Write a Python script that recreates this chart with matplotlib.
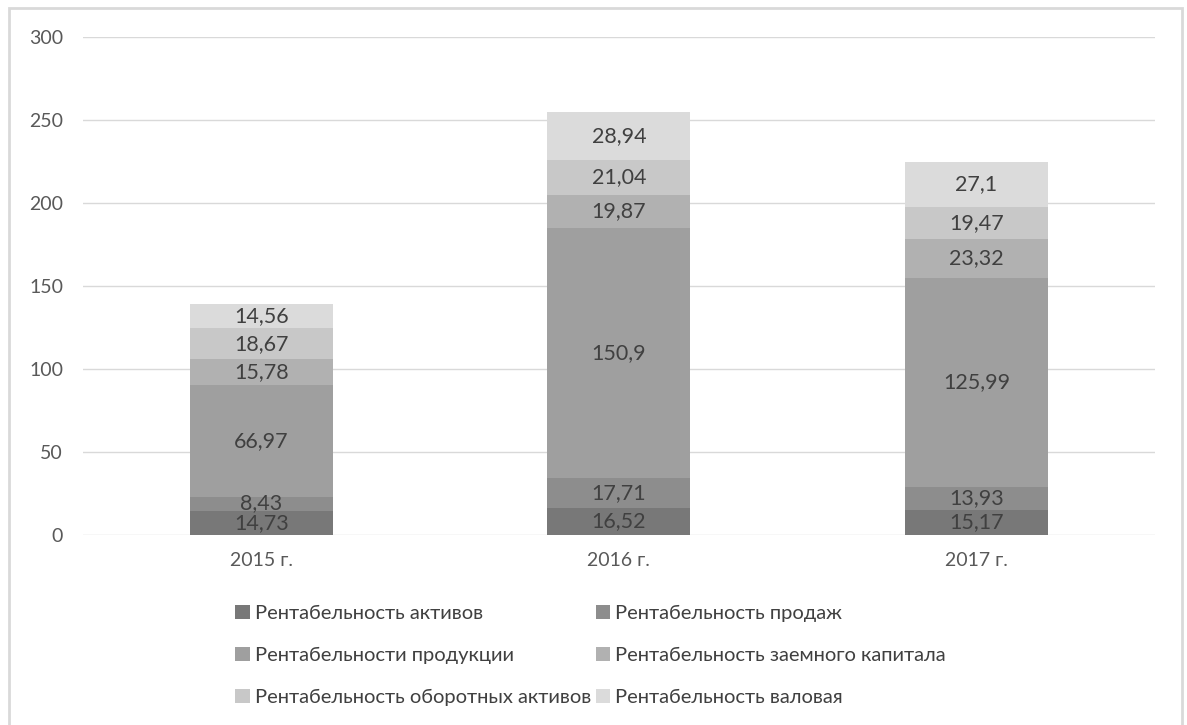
import matplotlib
matplotlib.use("Agg")
import matplotlib.pyplot as plt
from matplotlib.patches import Rectangle

# данные
years = ["2015 г.", "2016 г.", "2017 г."]
series = ["Рентабельность активов", "Рентабельность продаж",
          "Рентабельности продукции", "Рентабельность заемного капитала",
          "Рентабельность оборотных активов", "Рентабельность валовая"]
aktivov = [14.73, 16.52, 15.17]
prodazh = [8.43, 17.71, 13.93]
produkcii = [66.97, 150.9, 125.99]
zaemnogo = [15.78, 19.87, 23.32]
oborotnyh = [18.67, 21.04, 19.47]
valovaya = [14.56, 28.94, 27.1]
colors = ["#787878", "#8d8d8d", "#9f9f9f", "#b1b1b1", "#c8c8c8", "#dbdbdb"]

plt.rcParams['font.family'] = ['Lato', 'DejaVu Sans']

fig = plt.figure(figsize=(11.87, 7.25), dpi=100)
ax = fig.add_axes([82.5/1187, 1-535/725, (1155.3-82.5)/1187, (535-37)/725])

x = list(range(len(years)))
bottom = [0, 0, 0]
handles = []
for name, vals, c in zip(series, [aktivov, prodazh, produkcii, zaemnogo, oborotnyh, valovaya], colors):
    b = ax.bar(x, vals, 0.4, bottom=bottom, color=c, label=name, zorder=2)
    handles.append(b)
    labels = [str(v).replace(".", ",") for v in vals]
    ax.bar_label(b, labels=labels, label_type='center', color="#404040", fontsize=15.5)
    bottom = [bo + v for bo, v in zip(bottom, vals)]

ax.set_ylim(0, 300)
ax.set_xlim(-0.5, 2.5)
ax.set_yticks(range(0, 301, 50))
ax.set_xticks(x)
ax.set_xticklabels(years)
ax.grid(axis='y', color="#d9d9d9", lw=1, zorder=0)
for s in ax.spines.values():
    s.set_visible(False)
ax.tick_params(length=0, colors="#595959", labelsize=14)
ax.tick_params(axis='y', pad=14)
ax.tick_params(axis='x', pad=12)

order = [0, 2, 4, 1, 3, 5]
fig.legend([handles[i] for i in order], [series[i] for i in order],
           ncol=2, loc='upper left', bbox_to_anchor=(217/1187, 1-587/725),
           frameon=False, fontsize=14.5, handlelength=0.72, handleheight=0.72,
           handletextpad=0.25, columnspacing=0.25, labelspacing=1.22,
           labelcolor="#404040")

fig.patches.append(Rectangle((9/1187, -0.05), (1182-9)/1187, 1.05-8/725,
                             transform=fig.transFigure, fill=False,
                             edgecolor="#d9d9d9", lw=2))

fig.savefig("out.png", dpi=100)
